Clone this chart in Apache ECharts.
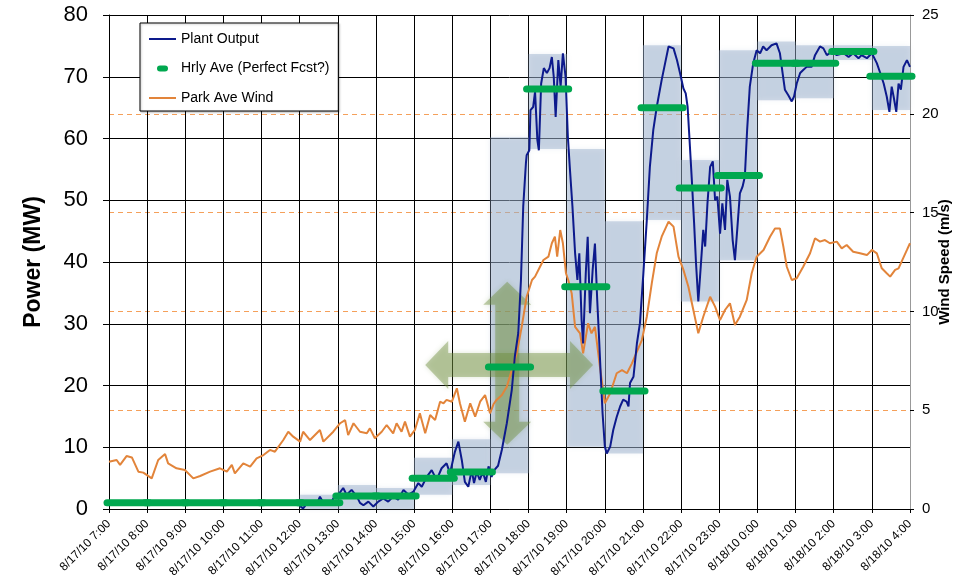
<!DOCTYPE html>
<html>
<head>
<meta charset="utf-8">
<script src="https://cdn.jsdelivr.net/npm/echarts@6/dist/echarts.min.js"></script>
<style>
html,body{margin:0;padding:0;background:#fff;}
#chart{width:956px;height:580px;}
</style>
</head>
<body>
<div id="chart"></div>
<script>
// ---- tick labels (hours 7 .. 28 on a numeric hour axis) ----
const tickLabels = ['8/17/10 7:00','8/17/10 8:00','8/17/10 9:00','8/17/10 10:00','8/17/10 11:00','8/17/10 12:00',
  '8/17/10 13:00','8/17/10 14:00','8/17/10 15:00','8/17/10 16:00','8/17/10 17:00','8/17/10 18:00','8/17/10 19:00',
  '8/17/10 20:00','8/17/10 21:00','8/17/10 22:00','8/17/10 23:00','8/18/10 0:00','8/18/10 1:00','8/18/10 2:00',
  '8/18/10 3:00','8/18/10 4:00'];

// ---- hourly statistics ----
const hourStart = [7,8,9,10,11,12,13,14,15,16,17,18,19,20,21,22,23,24,25,26,27];
const hrlyAve   = [1,1,1,1,1,1,2.1,2.1,5,6,23,68,36,19.1,65,52,54,72.2,72.2,74.1,70.1];
const hrMin     = [null,null,null,null,null,0,0,0,2.3,3.9,5.8,58.3,10.1,9.0,46.8,33.6,40.3,66.2,66.5,72.7,64.6];
const hrMax     = [null,null,null,null,null,2.3,3.9,3.4,8.3,11.3,60.2,73.7,58.3,46.6,75.1,56.5,74.3,75.7,75.1,75.1,75.0];

// ---- plant output (hour, MW) ----
const plantT = [12.0,12.09,12.2,12.36,12.45,12.53,12.62,12.71,12.8,12.88,13.0,13.14,13.23,13.36,13.5,13.58,13.67,13.8,13.93,
  14.06,14.19,14.32,14.45,14.58,14.72,14.85,14.98,15.11,15.2,15.33,15.46,15.59,15.72,15.85,15.94,16.07,16.16,16.25,16.33,
  16.42,16.51,16.57,16.64,16.72,16.8,16.88,16.95,17.03,17.1,17.2,17.3,17.43,17.56,17.64,17.73,17.8,17.86,17.93,17.95,18.02,
  18.05,18.12,18.17,18.23,18.27,18.33,18.4,18.48,18.55,18.61,18.66,18.71,18.78,18.84,18.9,18.97,19.03,19.08,19.15,19.22,
  19.28,19.33,19.39,19.43,19.5,19.55,19.61,19.68,19.74,19.8,19.85,19.89,19.94,20.0,20.05,20.14,20.22,20.31,20.4,20.48,
  20.57,20.62,20.66,20.75,20.84,20.92,21.01,21.1,21.18,21.27,21.36,21.49,21.58,21.67,21.8,21.89,21.97,22.06,22.12,22.17,
  22.22,22.28,22.34,22.39,22.45,22.52,22.58,22.63,22.69,22.76,22.83,22.89,22.95,23.02,23.08,23.15,23.21,23.28,23.35,23.41,
  23.47,23.54,23.61,23.67,23.73,23.8,23.89,23.98,24.07,24.15,24.24,24.37,24.5,24.59,24.66,24.72,24.81,24.9,24.96,25.03,
  25.12,25.2,25.29,25.42,25.51,25.64,25.73,25.82,25.95,26.08,26.26,26.39,26.51,26.65,26.73,26.87,27.0,27.13,27.22,27.31,
  27.39,27.46,27.52,27.57,27.64,27.7,27.76,27.83,27.92,28.0];
const plantMW = [0.5,0.1,1.0,1.2,0.8,2.0,1.0,1.2,0.6,1.7,2.2,3.4,2.3,3.1,2.0,1.0,0.6,1.2,0.4,
  1.2,1.7,1.2,2.0,1.5,3.1,2.3,2.8,4.2,3.6,5.2,6.3,4.7,6.6,7.4,5.8,9.3,10.9,7.9,4.4,
  3.6,6.3,4.2,6.0,4.7,6.0,4.4,6.9,5.2,6.3,7.0,9.6,13.9,19.3,24.7,28.5,37.0,49.0,56.0,57.3,58.1,
  64.6,65.1,67.6,59.8,58.1,68.9,71.4,70.6,71.4,73.2,70.0,63.5,72.7,68.4,73.8,70.0,60.3,55.4,49.0,41.4,
  37.1,41.4,30.6,26.8,38.2,44.1,31.7,38.7,43.0,33.8,27.4,22.0,15.5,10.1,9.0,10.1,12.8,14.9,16.6,17.7,
  17.4,16.6,20.4,21.4,26.8,30.1,38.2,46.8,55.4,61.4,65.1,69.5,72.2,74.9,74.6,72.7,70.6,68.1,67.3,65.1,
  59.8,53.3,46.3,39.8,33.6,39.8,45.2,42.5,49.5,55.4,56.3,50.0,50.6,44.6,49.5,45.2,53.3,50.6,43.6,40.3,
  45.2,51.1,52.2,53.8,61.4,68.4,72.2,74.3,73.8,74.9,74.3,75.1,75.4,73.8,70.6,67.9,67.0,66.0,66.8,68.9,
  70.6,71.1,71.6,71.6,73.5,74.9,74.6,73.5,74.1,73.5,73.8,73.2,73.8,73.0,73.5,73.0,73.8,72.2,70.6,68.9,
  66.8,64.3,68.4,66.8,64.3,68.9,67.9,71.6,72.7,71.6];

// ---- park average wind (hour, m/s) ----
const windT = [7.0,7.2,7.29,7.46,7.6,7.77,7.9,8.12,8.29,8.47,8.55,8.77,8.99,9.21,9.39,9.65,9.91,10.09,10.22,10.3,10.52,
  10.7,10.87,11.05,11.22,11.35,11.57,11.7,11.83,12.01,12.09,12.27,12.53,12.62,12.88,13.06,13.19,13.27,13.41,13.58,13.76,
  13.84,13.97,14.15,14.28,14.45,14.54,14.67,14.76,14.89,15.02,15.15,15.29,15.42,15.55,15.68,15.77,15.85,15.99,16.12,16.2,
  16.33,16.47,16.6,16.73,16.86,16.99,17.08,17.16,17.3,17.43,17.56,17.69,17.82,17.95,18.09,18.17,18.3,18.39,18.52,18.61,
  18.69,18.75,18.83,18.9,18.98,19.04,19.13,19.22,19.35,19.43,19.56,19.65,19.74,19.87,20.0,20.14,20.31,20.45,20.58,20.71,
  20.84,20.97,21.1,21.23,21.36,21.49,21.67,21.8,21.93,22.06,22.19,22.32,22.45,22.58,22.76,22.89,23.02,23.15,23.28,23.41,
  23.54,23.72,23.85,23.98,24.16,24.33,24.46,24.59,24.68,24.77,24.9,25.03,25.2,25.38,25.51,25.64,25.77,25.9,26.08,26.21,
  26.34,26.51,26.69,26.87,27.0,27.13,27.26,27.39,27.48,27.61,27.7,27.78,27.92,28.0];
const windMS = [2.39,2.48,2.23,2.68,2.61,1.89,1.84,1.55,2.48,2.78,2.31,2.06,1.97,1.55,1.67,1.89,2.06,1.89,2.23,1.8,2.31,
  2.14,2.56,2.73,2.99,2.9,3.49,3.91,3.66,3.41,3.91,3.49,4.0,3.41,3.91,4.34,4.5,3.74,4.34,3.91,3.83,
  4.08,3.58,3.91,4.25,3.83,4.34,3.91,4.42,3.66,4.0,4.84,3.83,4.76,4.5,5.43,5.35,5.52,5.43,6.11,5.35,
  4.42,5.35,4.67,5.43,5.77,4.84,5.3,5.52,5.77,6.19,7.03,7.88,9.22,10.74,11.59,11.76,12.26,12.6,12.77,13.45,
  13.78,12.77,14.12,13.45,11.93,11.59,10.92,9.22,8.89,7.88,9.4,8.89,9.22,7.2,5.35,5.86,6.87,7.03,6.87,7.37,
  7.96,8.55,9.73,11.42,12.94,13.78,14.54,14.29,12.77,12.1,11.25,10.07,8.89,9.73,10.74,10.24,9.56,10.07,10.41,9.31,
  9.73,10.58,11.93,12.77,13.11,13.78,14.2,14.2,13.28,12.26,11.59,11.68,12.26,12.94,13.7,13.53,13.61,13.45,13.53,13.19,
  13.36,13.02,12.94,12.85,13.11,12.94,12.18,11.93,11.76,12.1,12.18,12.52,13.11,13.45];

// ---- annotation cross-arrow: [centreHour, centreMW, leftTipHour, rightTipHour, bottomTipMW, topTipMW] ----
const arrowDef = [[17.44, 23.3, 15.29, 19.69, 10.4, 36.8]];

const plantData = plantT.map((t, i) => [t, plantMW[i]]);
const windData = windT.map((t, i) => [t, windMS[i]]);
const boxData = [];
hourStart.forEach((h, i) => { if (hrMin[i] !== null) boxData.push([h, hrMin[i], hrMax[i]]); });
const aveData = hourStart.map((h, i) => [h, hrlyAve[i]]);

const FONT = '"Liberation Sans", Arial, sans-serif';
const chart = echarts.init(document.getElementById('chart'), null, {renderer: 'canvas'});

const linePath = 'path://M0,0 M27,14 M0,6 L27,6 L27,8 L0,8 Z';
const pillPath = 'path://M0,0 M27,14 M11,4 L16,4 A3,3 0 0 1 16,10 L11,10 A3,3 0 0 1 11,4 Z';

chart.setOption({
  animation: false,
  backgroundColor: '#fff',
  grid: {left: 109, right: 46, top: 15, bottom: 71, containLabel: false, outerBoundsMode: 'none'},
  legend: {
    orient: 'vertical', left: 140, top: 23,
    padding: [9, 9, 6, 9], itemGap: 15.5, itemWidth: 27, itemHeight: 14, itemTextGap: 4,
    borderColor: '#000', borderWidth: 1, backgroundColor: '#fff',
    shadowColor: 'rgba(0,0,0,0.25)', shadowBlur: 2, shadowOffsetX: 1, shadowOffsetY: 1,
    textStyle: {fontSize: 14, fontFamily: FONT, color: '#000'},
    data: [
      {name: 'Plant Output', icon: linePath},
      {name: 'Hrly Ave (Perfect Fcst?)', icon: pillPath},
      {name: 'Park Ave Wind', icon: linePath}
    ]
  },
  xAxis: {
    type: 'value', min: 7, max: 28, interval: 1,
    axisLine: {show: true, lineStyle: {color: '#000', width: 1}},
    axisTick: {show: true, length: 4, lineStyle: {color: '#000'}},
    splitLine: {show: true, lineStyle: {color: '#000', width: 1}},
    axisLabel: {
      rotate: 45, margin: 13, fontSize: 12, fontFamily: FONT, color: '#000',
      formatter: v => tickLabels[Math.round(v - 7)]
    }
  },
  yAxis: [
    {
      type: 'value', min: 0, max: 80, interval: 10, position: 'left',
      name: 'Power (MW)', nameLocation: 'middle', nameGap: 64, nameRotate: 90, nameMoveOverlap: false,
      nameTextStyle: {fontSize: 23, fontWeight: 'bold', fontFamily: FONT, color: '#000'},
      axisLine: {show: true, lineStyle: {color: '#000', width: 1}},
      axisTick: {show: true, length: 6, lineStyle: {color: '#000'}},
      splitLine: {show: true, lineStyle: {color: '#000', width: 1}},
      axisLabel: {fontSize: 22, fontFamily: FONT, color: '#000', margin: 21}
    },
    {
      type: 'value', min: 0, max: 25, interval: 5, position: 'right',
      name: 'Wind Speed (m/s)', nameLocation: 'middle', nameGap: 27, nameRotate: 90, nameMoveOverlap: false,
      nameTextStyle: {fontSize: 15, fontWeight: 'bold', fontFamily: FONT, color: '#000'},
      axisLine: {show: true, lineStyle: {color: '#999', width: 1}},
      axisTick: {show: true, length: 4, lineStyle: {color: '#000'}},
      splitLine: {show: true, showMinLine: false, showMaxLine: false,
        lineStyle: {color: '#f5a05a', width: 1, type: [5, 4]}},
      axisLabel: {fontSize: 15, fontFamily: FONT, color: '#000', margin: 12}
    }
  ],
  series: [
    {
      name: 'ranges', type: 'custom', yAxisIndex: 0, z: 1, silent: true,
      encode: {x: 0, y: [1, 2]},
      data: boxData,
      renderItem: function (params, api) {
        const p1 = api.coord([api.value(0), api.value(2)]);
        const p2 = api.coord([api.value(0) + 1, api.value(1)]);
        return {
          type: 'rect',
          shape: {x: p1[0], y: p1[1], width: p2[0] - p1[0], height: p2[1] - p1[1]},
          style: {fill: 'rgba(150,172,202,0.45)', shadowBlur: 5, shadowColor: 'rgba(150,172,202,0.45)'}
        };
      }
    },
    {
      name: 'arrow', type: 'custom', yAxisIndex: 0, z: 2, silent: true,
      encode: {x: [0, 2, 3], y: [1, 4, 5]},
      data: arrowDef,
      renderItem: function (params, api) {
        const c = api.coord([api.value(0), api.value(1)]);
        const L = api.coord([api.value(2), api.value(1)])[0];
        const R = api.coord([api.value(3), api.value(1)])[0];
        const B = api.coord([api.value(0), api.value(4)])[1];
        const T = api.coord([api.value(0), api.value(5)])[1];
        const hl = 23, hw = 24, sw = 12;
        const cx = c[0], cy = c[1];
        const hpts = [[L, cy], [L + hl, cy - hw], [L + hl, cy - sw], [R - hl, cy - sw], [R - hl, cy - hw], [R, cy],
          [R - hl, cy + hw], [R - hl, cy + sw], [L + hl, cy + sw], [L + hl, cy + hw]];
        const vpts = [[cx, T], [cx + hw, T + hl], [cx + sw, T + hl], [cx + sw, B - hl], [cx + hw, B - hl], [cx, B],
          [cx - hw, B - hl], [cx - sw, B - hl], [cx - sw, T + hl], [cx - hw, T + hl]];
        const st = {fill: 'rgba(110,140,60,0.42)', shadowBlur: 5, shadowColor: 'rgba(110,140,60,0.5)'};
        return {type: 'group', children: [
          {type: 'polygon', shape: {points: hpts}, style: st},
          {type: 'polygon', shape: {points: vpts}, style: st}
        ]};
      }
    },
    {
      name: 'Park Ave Wind', type: 'line', yAxisIndex: 1, z: 3,
      data: windData, showSymbol: false, symbol: 'none',
      itemStyle: {color: '#E2843A'},
      lineStyle: {color: '#E2843A', width: 2}
    },
    {
      name: 'Plant Output', type: 'line', yAxisIndex: 0, z: 4,
      data: plantData, showSymbol: false, symbol: 'none',
      itemStyle: {color: '#0D1A8C'},
      lineStyle: {color: '#0D1A8C', width: 2}
    },
    {
      name: 'Hrly Ave (Perfect Fcst?)', type: 'custom', yAxisIndex: 0, z: 5,
      encode: {x: 0, y: 1},
      data: aveData,
      itemStyle: {color: '#00A84F'},
      renderItem: function (params, api) {
        const p1 = api.coord([api.value(0), api.value(1)]);
        const p2 = api.coord([api.value(0) + 1, api.value(1)]);
        return {
          type: 'line',
          shape: {x1: p1[0] - 2, y1: p1[1], x2: p2[0] + 2, y2: p2[1]},
          style: {stroke: '#00A84F', lineWidth: 7, lineCap: 'round'}
        };
      }
    }
  ]
});
</script>
</body>
</html>
